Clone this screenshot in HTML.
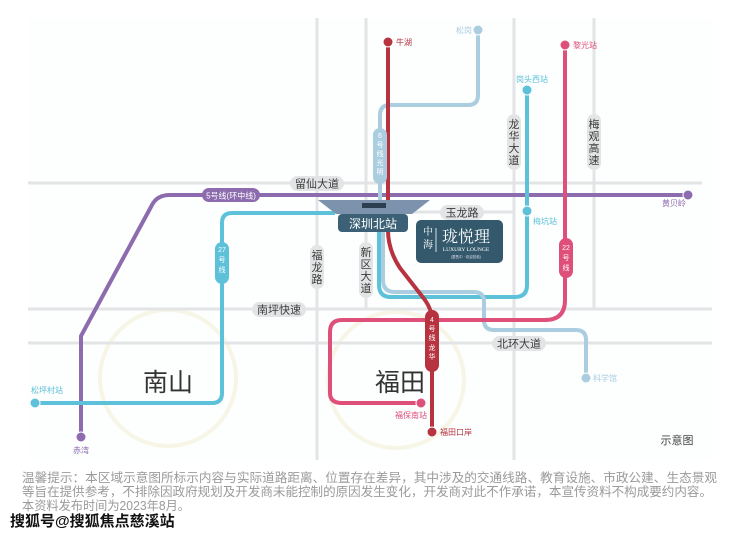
<!DOCTYPE html>
<html><head><meta charset="utf-8"><style>
html,body{margin:0;padding:0;background:#fff;}
svg{display:block;font-family:"Liberation Sans","Noto Sans CJK SC",sans-serif;}
</style></head><body>
<svg width="740" height="535" viewBox="0 0 740 535" xmlns="http://www.w3.org/2000/svg">
<rect x="28" y="18" width="684" height="442" fill="#fdfefe"/>
<circle cx="168" cy="378" r="68" fill="none" stroke="#f7f6e6" stroke-width="4"/>
<circle cx="396" cy="380" r="68" fill="none" stroke="#f7f6e6" stroke-width="4"/>
<g stroke="#e2e4e5" stroke-width="3" fill="none">
<line x1="28" y1="183" x2="702" y2="183"/>
<line x1="340" y1="212" x2="514" y2="212"/>
<line x1="28" y1="309" x2="712" y2="309"/>
<line x1="28" y1="343" x2="712" y2="343"/>
<line x1="317" y1="18" x2="317" y2="460"/>
<line x1="366" y1="18" x2="366" y2="309"/>
<line x1="514" y1="18" x2="514" y2="460"/>
<line x1="594" y1="18" x2="594" y2="309"/>
</g>
<g fill="none" stroke-width="4" stroke-linejoin="round">
<path d="M81 437 V336 L152 205 Q157 195 170 195 H688" stroke="#8c6cae"/>
<path d="M35 403 H212 Q222 403 222 393 V223 Q222 213 232 213 H335" stroke="#5cc1d9"/>
<path d="M379 225 V285 Q379 297 391 297 H515 Q527 297 527 285 V90" stroke="#5cc1d9"/>
<path d="M478 30 V95 Q478 105 468 105 H390 Q380 105 380 115 V205" stroke="#aacde0"/>
<path d="M383 225 V280 Q383 292 395 292 H474 Q484 292 484 302 V320 Q484 330 494 330 H576 Q586 330 586 340 V378" stroke="#aacde0"/>
<path d="M388 42 V230 Q388 250 400 268 L425 300 Q432 310 432 320 V432" stroke="#b73340"/>
<path d="M565 45 V300 Q565 320 545 320 H342 Q330 320 330 332 V393 Q330 403 342 403 H421" stroke="#de4f7a"/>
</g>
<rect x="202" y="188" width="58" height="14" rx="7" fill="#8c6cae"/>
<text x="231" y="198.5" font-size="8" fill="#fff" text-anchor="middle">5号线(环中线)</text>
<rect x="215" y="242" width="14" height="42" rx="7" fill="#5cc1d9"/>
<text x="222" y="252" font-size="7" fill="#fff" text-anchor="middle">27</text>
<text x="222" y="262" font-size="7" fill="#fff" text-anchor="middle">号</text>
<text x="222" y="272" font-size="7" fill="#fff" text-anchor="middle">线</text>
<rect x="373" y="128" width="14" height="56" rx="7" fill="#aacde0"/>
<text x="380" y="138" font-size="7" fill="#fff" text-anchor="middle">6</text>
<text x="380" y="147" font-size="7" fill="#fff" text-anchor="middle">号</text>
<text x="380" y="156" font-size="7" fill="#fff" text-anchor="middle">线</text>
<text x="380" y="165" font-size="7" fill="#fff" text-anchor="middle">光</text>
<text x="380" y="174" font-size="7" fill="#fff" text-anchor="middle">明</text>
<rect x="425" y="310" width="14" height="62" rx="7" fill="#b73340"/>
<text x="432" y="322" font-size="7" fill="#fff" text-anchor="middle">4</text>
<text x="432" y="331" font-size="7" fill="#fff" text-anchor="middle">号</text>
<text x="432" y="340" font-size="7" fill="#fff" text-anchor="middle">线</text>
<text x="432" y="350" font-size="7" fill="#fff" text-anchor="middle">龙</text>
<text x="432" y="359" font-size="7" fill="#fff" text-anchor="middle">华</text>
<rect x="559" y="238" width="14" height="40" rx="7" fill="#de4f7a"/>
<text x="566" y="250" font-size="7" fill="#fff" text-anchor="middle">22</text>
<text x="566" y="260" font-size="7" fill="#fff" text-anchor="middle">号</text>
<text x="566" y="270" font-size="7" fill="#fff" text-anchor="middle">线</text>
<g fill="#e3e4e5">
<rect x="290" y="176" width="54" height="15" rx="7.5"/>
<rect x="440" y="205" width="44" height="15" rx="7.5"/>
<rect x="252" y="302" width="54" height="15" rx="7.5"/>
<rect x="492" y="336" width="54" height="15" rx="7.5"/>
<rect x="310" y="245" width="14" height="44" rx="7"/>
<rect x="359" y="242" width="14" height="56" rx="7"/>
<rect x="507" y="114" width="14" height="56" rx="7"/>
<rect x="587" y="114" width="14" height="56" rx="7"/>
</g>
<g fill="#3a3a3a" font-size="11" text-anchor="middle">
<text x="317" y="187.5">留仙大道</text>
<text x="462" y="216.5">玉龙路</text>
<text x="279" y="313.5">南坪快速</text>
<text x="519" y="347.5">北环大道</text>
<text x="317" y="259">福</text><text x="317" y="271">龙</text><text x="317" y="283">路</text>
<text x="366" y="256">新</text><text x="366" y="268">区</text><text x="366" y="280">大</text><text x="366" y="292">道</text>
<text x="514" y="128">龙</text><text x="514" y="140">华</text><text x="514" y="152">大</text><text x="514" y="164">道</text>
<text x="594" y="128">梅</text><text x="594" y="140">观</text><text x="594" y="152">高</text><text x="594" y="164">速</text>
</g>
<g stroke="#fff" stroke-width="1">
<circle cx="35" cy="403" r="5" fill="#5cc1d9"/>
<circle cx="81" cy="437" r="5" fill="#8c6cae"/>
<circle cx="688" cy="195" r="5" fill="#8c6cae"/>
<circle cx="478" cy="30" r="5" fill="#aacde0"/>
<circle cx="388" cy="42" r="5" fill="#b73340"/>
<circle cx="565" cy="45" r="5" fill="#de4f7a"/>
<circle cx="527" cy="90" r="5" fill="#5cc1d9"/>
<circle cx="527" cy="211" r="5" fill="#5cc1d9"/>
<circle cx="586" cy="378" r="5" fill="#aacde0"/>
<circle cx="421" cy="403" r="5" fill="#de4f7a"/>
<circle cx="432" cy="432" r="5" fill="#b73340"/>
</g>
<g font-size="8">
<text x="31" y="393" fill="#5cc1d9">松坪村站</text>
<text x="73" y="453" fill="#8c6cae">赤湾</text>
<text x="662" y="206" fill="#8c6cae">黄贝岭</text>
<text x="456" y="33" fill="#aacde0">松岗</text>
<text x="396" y="45" fill="#b73340">牛湖</text>
<text x="573" y="48" fill="#de4f7a">黎光站</text>
<text x="516" y="82" fill="#5cc1d9">岗头西站</text>
<text x="533" y="224" fill="#5cc1d9">梅坑站</text>
<text x="593" y="381" fill="#aacde0">科学馆</text>
<text x="395" y="418" fill="#de4f7a">福保南站</text>
<text x="440" y="435" fill="#b73340">福田口岸</text>
</g>
<text x="168" y="391" font-size="25" fill="#333" text-anchor="middle">南山</text>
<text x="400" y="391" font-size="25" fill="#333" text-anchor="middle">福田</text>
<polygon points="318,200 430,200 412,214 336,214" fill="#7d93ad"/>
<rect x="362" y="203" width="24" height="5" fill="#2c3e50"/>
<rect x="338" y="214" width="70" height="18" rx="4" fill="#3c6176"/>
<text x="373" y="228" font-size="12" fill="#fff" text-anchor="middle">深圳北站</text>
<rect x="416" y="220" width="87" height="43" rx="5" fill="#34596c"/>
<text x="428" y="235" font-size="10" fill="#fff" font-family="Liberation Serif,Noto Serif CJK SC,serif" text-anchor="middle">中</text>
<text x="428" y="248" font-size="10" fill="#fff" font-family="Liberation Serif,Noto Serif CJK SC,serif" text-anchor="middle">海</text>
<line x1="436" y1="228" x2="436" y2="252" stroke="#fff" stroke-width="0.8"/>
<text x="466" y="242" font-size="16" fill="#fff" font-family="Liberation Serif,Noto Serif CJK SC,serif" text-anchor="middle">珑悦理</text>
<text x="466" y="251" font-size="5.5" fill="#fff" font-family="Liberation Serif,serif" text-anchor="middle">LUXURY LOUNGE</text>
<text x="466" y="258" font-size="3.5" fill="#dde" text-anchor="middle">(整售中 · 欢迎莅临)</text>
<text x="677" y="444" font-size="11" fill="#444" text-anchor="middle">示意图</text>
<g font-size="12.5" fill="#9a9a9a">
<text x="22" y="482" textLength="695" lengthAdjust="spacingAndGlyphs">温馨提示：本区域示意图所标示内容与实际道路距离、位置存在差异，其中涉及的交通线路、教育设施、市政公建、生态景观</text>
<text x="22" y="496" textLength="690" lengthAdjust="spacingAndGlyphs">等旨在提供参考，不排除因政府规划及开发商未能控制的原因发生变化，开发商对此不作承诺，本宣传资料不构成要约内容。</text>
<text x="22" y="510" textLength="168" lengthAdjust="spacingAndGlyphs">本资料发布时间为2023年8月。</text>
</g>
<text x="10" y="526" font-size="15" font-weight="bold" fill="#111" stroke="#fff" stroke-width="0.6" paint-order="stroke">搜狐号@搜狐焦点慈溪站</text>
</svg>
</body></html>
